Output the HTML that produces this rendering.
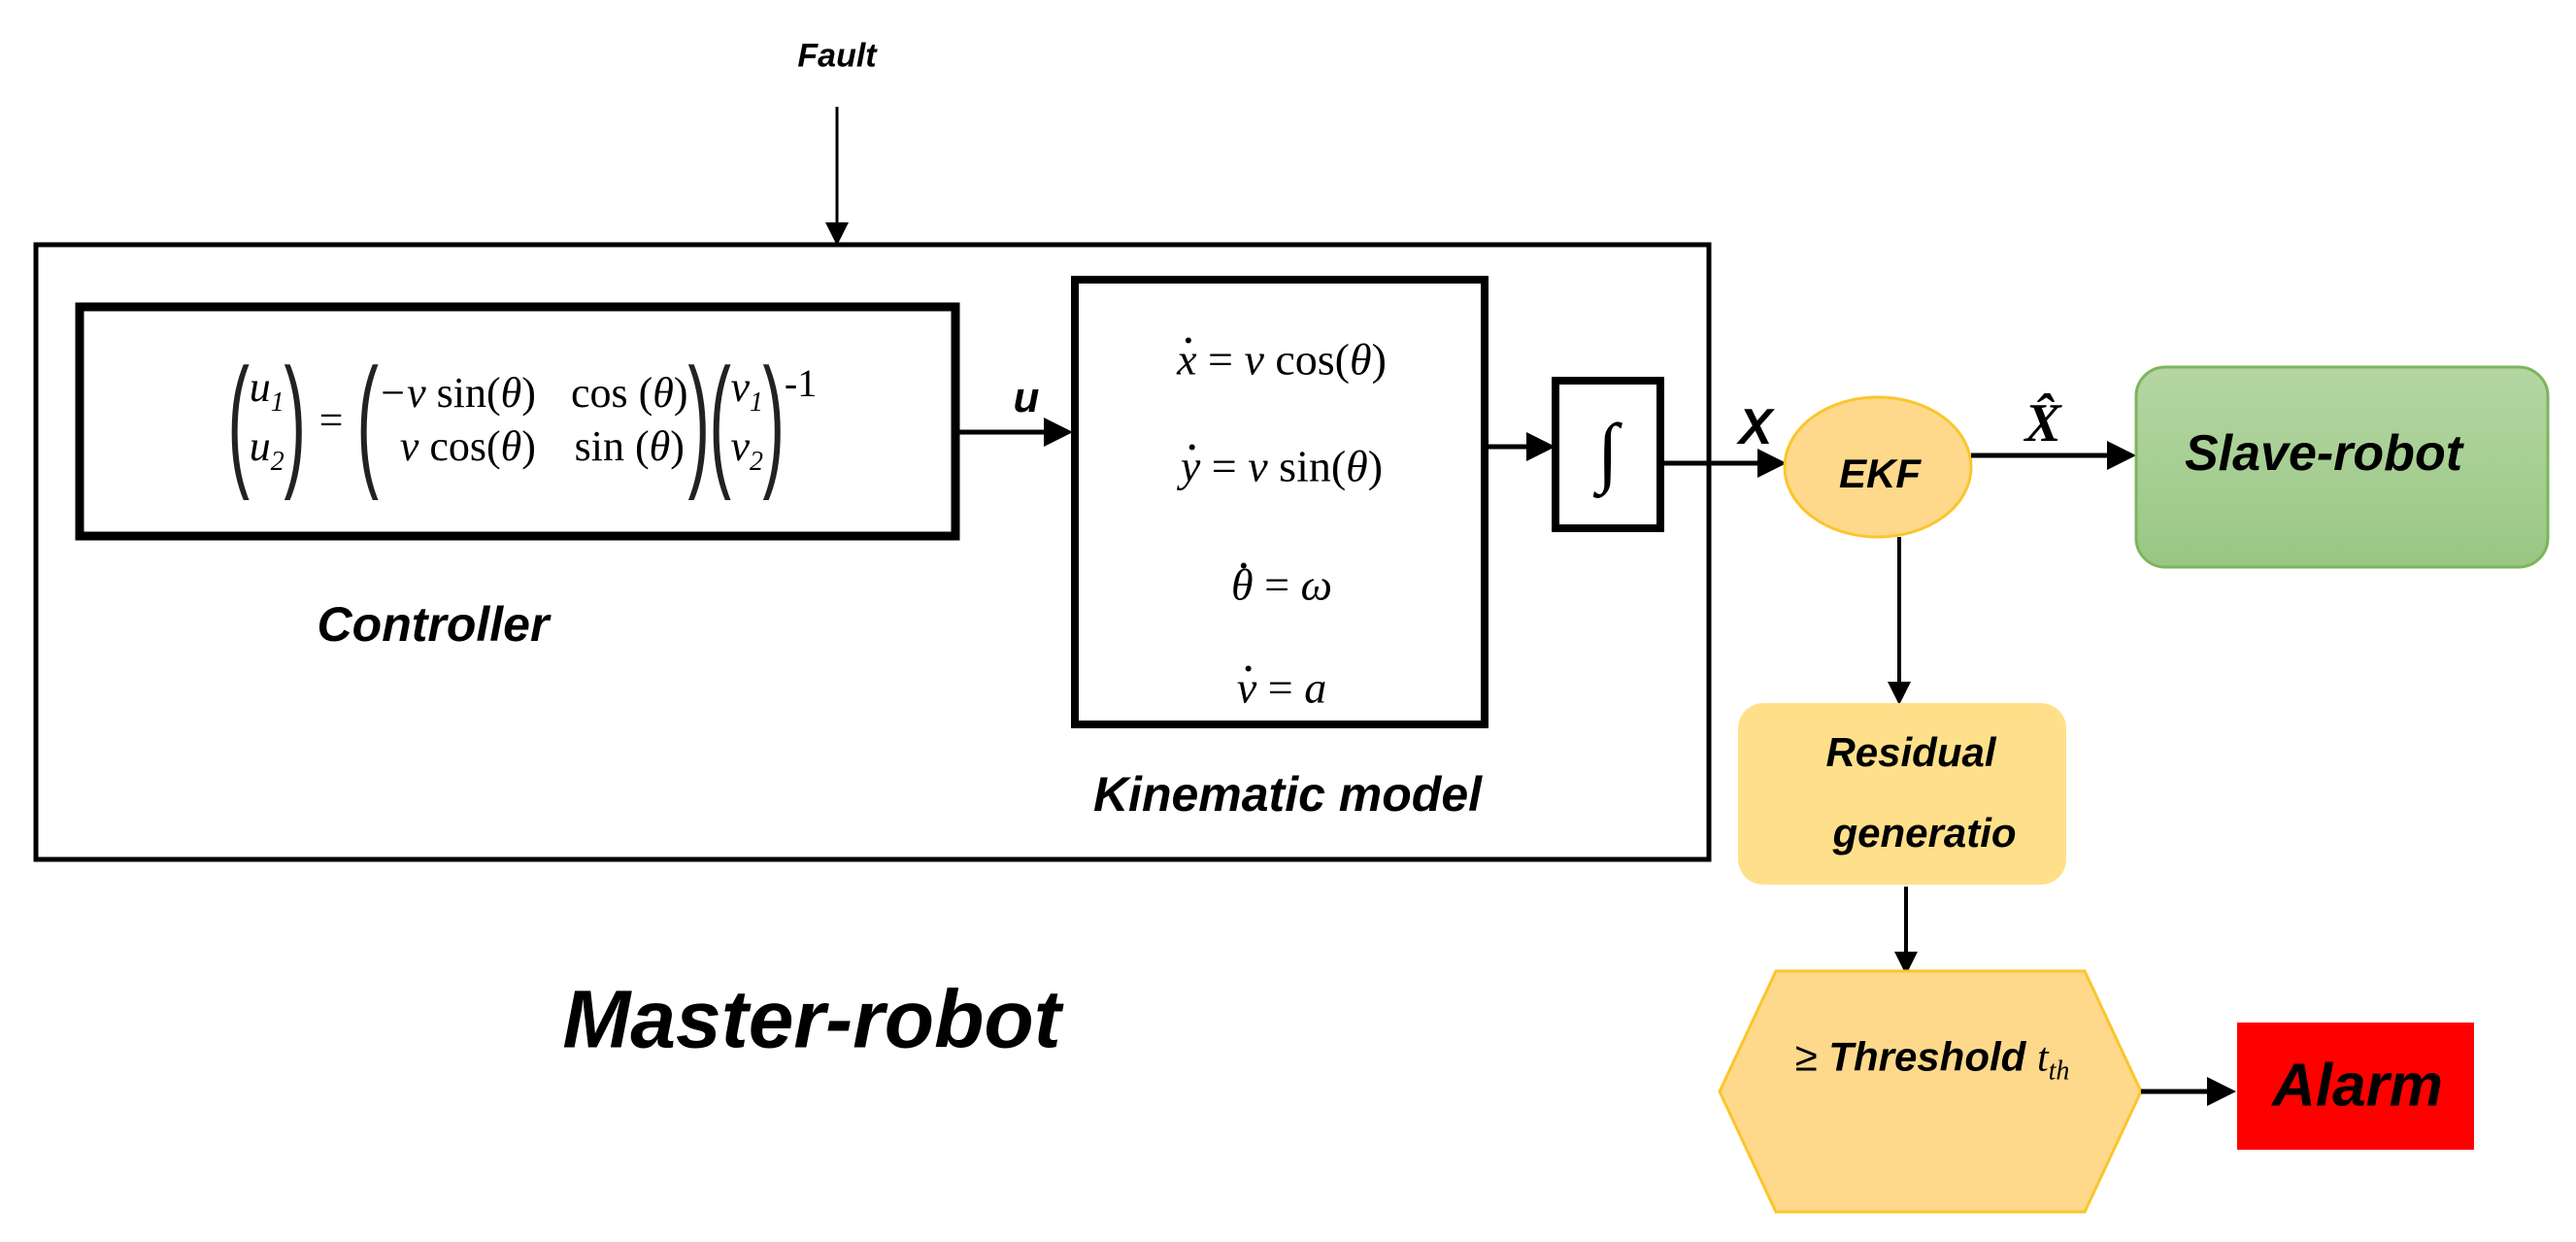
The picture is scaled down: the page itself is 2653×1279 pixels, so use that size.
<!DOCTYPE html>
<html><head><meta charset="utf-8"><style>
html,body{margin:0;padding:0;background:#fff;}
body{width:2653px;height:1279px;position:relative;overflow:hidden;font-family:"Liberation Sans",sans-serif;}
.t{position:absolute;font-weight:bold;font-style:italic;white-space:nowrap;transform:translate(-50%,-50%);}
.m{position:absolute;font-family:"Liberation Serif",serif;white-space:nowrap;transform:translate(-50%,-50%);}
.row{display:flex;align-items:center;}
.p{display:inline-block;font-size:150px;font-weight:100;transform:scaleX(0.45);line-height:1;margin:0 -14px;font-family:"Liberation Sans",sans-serif;color:#222;}
.col{display:inline-flex;flex-direction:column;align-items:center;line-height:1.25;}
.i{font-style:italic;}
sub{font-size:28px;}
.dot{position:relative;display:inline-block;}
.dot::after{content:"";position:absolute;left:50%;top:4px;width:6px;height:6px;border-radius:50%;background:#000;transform:translateX(-20%);}
</style></head><body>
<svg width="2653" height="1279" style="position:absolute;left:0;top:0">
<defs>
<marker id="a" markerWidth="6" markerHeight="6" refX="5" refY="3" orient="auto" markerUnits="strokeWidth"><path d="M0,0 L6,3 L0,6 z" fill="#000"/></marker>
<marker id="b" markerWidth="8" markerHeight="8" refX="7" refY="4" orient="auto" markerUnits="strokeWidth"><path d="M0,0 L8,4 L0,8 z" fill="#000"/></marker>
<linearGradient id="g" x1="0" y1="0" x2="0" y2="1"><stop offset="0" stop-color="#b5d6a4"/><stop offset="1" stop-color="#99c783"/></linearGradient>
</defs>
<line x1="862" y1="110" x2="862" y2="250" stroke="#000" stroke-width="3" marker-end="url(#b)"/>
<rect x="37" y="252" width="1723" height="633" fill="none" stroke="#000" stroke-width="5"/>
<rect x="82" y="316" width="902" height="236" fill="none" stroke="#000" stroke-width="9"/>
<rect x="1107" y="288" width="422" height="458" fill="none" stroke="#000" stroke-width="8"/>
<rect x="1602" y="392" width="108" height="152" fill="none" stroke="#000" stroke-width="8"/>
<line x1="988" y1="445" x2="1100" y2="445" stroke="#000" stroke-width="5" marker-end="url(#a)"/>
<line x1="1533" y1="460" x2="1597" y2="460" stroke="#000" stroke-width="5" marker-end="url(#a)"/>
<line x1="1714" y1="477" x2="1835" y2="477" stroke="#000" stroke-width="5" marker-end="url(#a)"/>
<ellipse cx="1934" cy="481" rx="96" ry="72" fill="#fed98c" stroke="#fbc52c" stroke-width="3"/>
<line x1="2030" y1="469" x2="2195" y2="469" stroke="#000" stroke-width="5" marker-end="url(#a)"/>
<rect x="2200" y="378" width="424" height="206" rx="30" fill="url(#g)" stroke="#7cb55c" stroke-width="3"/>
<line x1="1956" y1="553" x2="1956" y2="722" stroke="#000" stroke-width="4" marker-end="url(#a)"/>
<rect x="1790" y="724" width="338" height="187" rx="26" fill="#ffe08a"/>
<line x1="1963" y1="913" x2="1963" y2="1000" stroke="#000" stroke-width="4" marker-end="url(#a)"/>
<polygon points="1829,1000 2147,1000 2205,1124 2147,1248 1829,1248 1771,1124" fill="#fed98c" stroke="#fbc52c" stroke-width="3"/>
<line x1="2205" y1="1124" x2="2298" y2="1124" stroke="#000" stroke-width="5" marker-end="url(#a)"/>
<rect x="2304" y="1053" width="244" height="131" fill="#ff0000"/>
</svg>
<div class="t" style="left:862px;top:58px;font-size:34px;">Fault</div>
<div class="m row" style="left:538px;top:432px;font-size:44px;">
<span class="p">(</span><span class="col i"><span>u<sub>1</sub></span><span>u<sub>2</sub></span></span><span class="p">)</span>
<span style="margin:0 14px">=</span>
<span class="p">(</span><span class="col" style="align-items:flex-end"><span><span class="i">−v</span> sin(<span class="i">θ</span>)</span><span><span class="i">v</span> cos(<span class="i">θ</span>)</span></span>
<span class="col" style="margin-left:36px"><span>cos (<span class="i">θ</span>)</span><span>sin (<span class="i">θ</span>)</span></span><span class="p">)</span>
<span class="p">(</span><span class="col i"><span>v<sub>1</sub></span><span>v<sub>2</sub></span></span><span class="p">)</span><span style="align-self:flex-start;margin-top:14px;font-size:40px">-1</span>
</div>
<div class="t" style="left:446px;top:643px;font-size:50px;">Controller</div>
<div class="t" style="left:1057px;top:410px;font-size:44px;">u</div>
<div class="m" style="left:1320px;top:370px;font-size:46px;"><span class="i dot">x</span> = <span class="i">v</span> cos(<span class="i">θ</span>)</div>
<div class="m" style="left:1320px;top:480px;font-size:46px;"><span class="i dot">y</span> = <span class="i">v</span> sin(<span class="i">θ</span>)</div>
<div class="m" style="left:1320px;top:602px;font-size:46px;"><span class="i dot">θ</span> = <span class="i">ω</span></div>
<div class="m" style="left:1320px;top:708px;font-size:46px;"><span class="i dot">v</span> = <span class="i">a</span></div>
<div class="t" style="left:1326px;top:818px;font-size:50px;">Kinematic model</div>
<div class="m" style="left:1656px;top:466px;font-size:80px;">∫</div>
<div class="t" style="left:1808px;top:440px;font-size:52px;">X</div>
<div class="t" style="left:1936px;top:488px;font-size:42px;">EKF</div>
<div class="t" style="left:2104px;top:436px;font-size:56px;font-family:'Liberation Serif',serif;">X̂</div>
<div class="t" style="left:2393px;top:467px;font-size:52px;">Slave-robot</div>
<div class="t" style="left:1968px;top:775px;font-size:42px;">Residual</div>
<div class="t" style="left:1982px;top:858px;font-size:42px;">generatio</div>
<div class="t" style="left:1990px;top:1092px;font-size:42px;"><span style="font-style:normal;font-weight:normal">≥</span> Threshold <span style="font-family:'Liberation Serif',serif;font-weight:normal">t<sub>th</sub></span></div>
<div class="t" style="left:2428px;top:1118px;font-size:62px;">Alarm</div>
<div class="t" style="left:836px;top:1050px;font-size:84px;">Master-robot</div>
</body></html>
